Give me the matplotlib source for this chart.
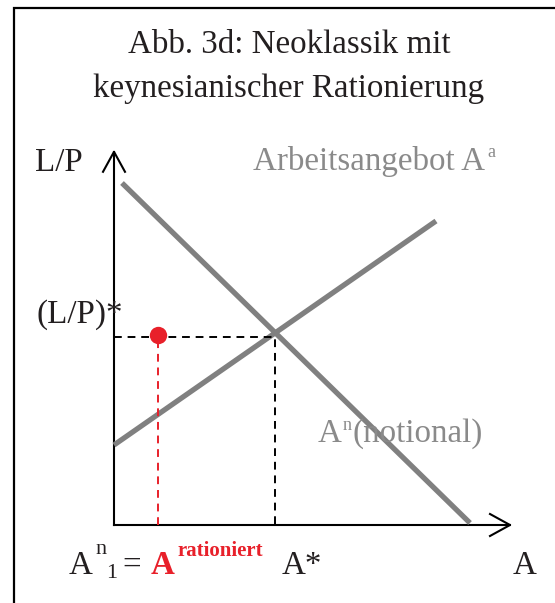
import matplotlib
matplotlib.use("Agg")
import matplotlib.pyplot as plt
import numpy as np

# ---- data (economic units) ----
demand_A = [0.2, 8.9]          # A^n (notional) labour demand
demand_LP = [8.55, 0.05]
supply_A = [0.0, 8.05]         # Arbeitsangebot A^a
supply_LP = [2.0, 7.6]
A_star = 4.025
LP_star = 4.7
A_rat = 1.1
LP_rat = 4.75
x_axis_end = 9.9
y_axis_end = 9.33

# pixel helpers (origin of diagram at pixel 114,525 ; 40 px per unit)
OX, OY, S = 114.0, 525.0, 40.0
def P(px, py):
    return ((px - OX) / S, (OY - py) / S)

W, H = 555, 603
fig = plt.figure(figsize=(W / 100, H / 100), dpi=100)
ax = fig.add_axes([0, 0, 1, 1])
ax.set_xlim(-OX / S, (W - OX) / S)
ax.set_ylim((OY - H) / S, OY / S)
ax.axis("off")

FONT = "Liberation Serif"
GRAY_LINE = "#808080"
GRAY_TXT = "#8a8a8a"
RED = "#e8202a"
LW = 1.5

# frame
fx, fy = P(14, 8)
bx, by = P(14, 603)
rx, ry = P(555, 8)
ax.plot([bx, fx, rx], [by, fy, ry], color="black", lw=1.6, solid_joinstyle="miter",
        clip_on=False)

# axes
ax.plot([0, 0], [0, y_axis_end], color="black", lw=LW)
ax.plot([0, x_axis_end], [0, 0], color="black", lw=LW)
hl, hw = 20 / S, 11 / S
ax.plot([-hw, 0, hw], [y_axis_end - hl, y_axis_end, y_axis_end - hl], color="black", lw=LW)
ax.plot([x_axis_end - hl, x_axis_end, x_axis_end - hl], [hw, 0, -hw], color="black", lw=LW)

# curves
ax.plot(demand_A, demand_LP, color=GRAY_LINE, lw=3.8, solid_capstyle="butt")
ax.plot(supply_A, supply_LP, color=GRAY_LINE, lw=3.8, solid_capstyle="butt")

# dashed guides
ax.plot([0, A_star, A_star], [LP_star, LP_star, 0], color="black", lw=1.4,
        linestyle=(0, (4, 3)))
ax.plot([A_rat, A_rat], [0, LP_rat], color=RED, lw=1.4, linestyle=(0, (4, 3)))
ax.plot([A_rat], [LP_rat], "o", color=RED, markersize=12.5, markeredgewidth=0)

FS = 23.8
SUP = 13

def T(px, py, s, **kw):
    x, y = P(px, py)
    kw.setdefault("family", FONT)
    kw.setdefault("fontsize", FS)
    kw.setdefault("color", "#231f20")
    ax.text(x, y, s, **kw)

# title
T(289, 53, "Abb. 3d: Neoklassik mit", ha="center", va="baseline")
T(289, 97, "keynesianischer Rationierung", ha="center", va="baseline")

# axis labels
T(35, 171, "L/P", ha="left", va="baseline")
T(36, 323, "(L/P)*", ha="left", va="baseline")
T(513, 574, "A", ha="left", va="baseline")
T(282, 574, "A*", ha="left", va="baseline")

# curve labels
T(253, 170, "Arbeitsangebot A", ha="left", va="baseline", color=GRAY_TXT)
T(487, 157, "a", ha="left", va="baseline", color=GRAY_TXT, fontsize=SUP)
T(318, 442, "A", ha="left", va="baseline", color=GRAY_TXT)
T(343, 430, "n", ha="left", va="baseline", color=GRAY_TXT, fontsize=SUP)
T(352, 442, "(notional)", ha="left", va="baseline", color=GRAY_TXT)

# bottom rationing label
T(69, 574, "A", ha="left", va="baseline")
T(95, 554, "n", ha="left", va="baseline", fontsize=SUP + 3)
T(106, 578, "1", ha="left", va="baseline", fontsize=SUP + 3)
T(122, 574, "=", ha="left", va="baseline")
T(151, 574, "A", ha="left", va="baseline", color=RED, fontweight="bold")
T(177, 556, "rationiert", ha="left", va="baseline", color=RED, fontweight="bold",
  fontsize=15)

fig.savefig("out.png", dpi=100)
